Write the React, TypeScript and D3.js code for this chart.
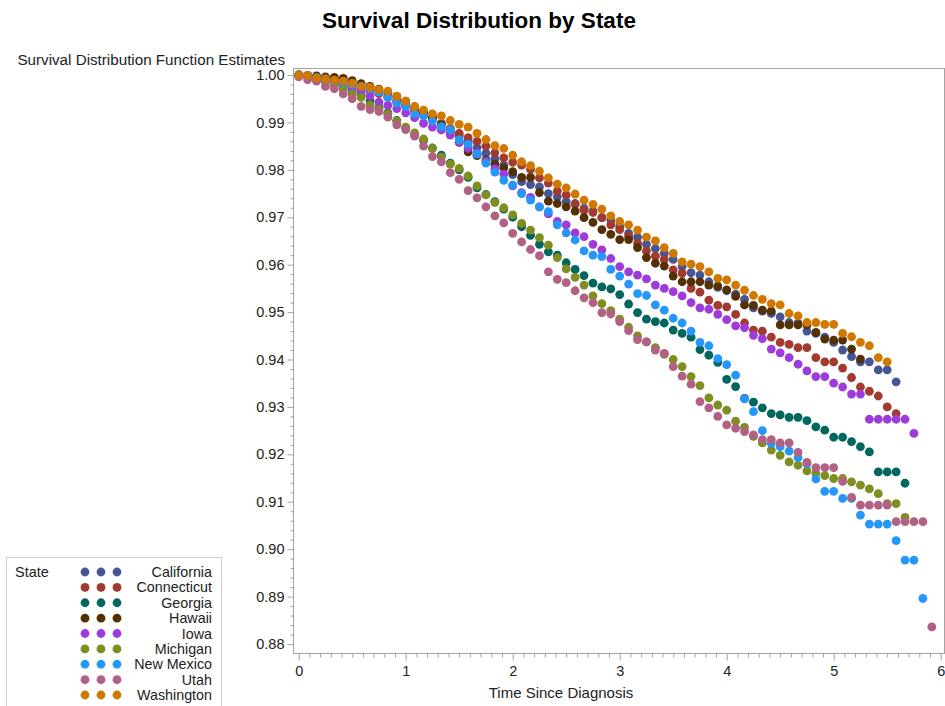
import React, { useEffect, useRef } from "react";
import * as d3 from "d3";

// Survival estimates per state, one value per month since diagnosis (month 0, 1, 2, ...)
const stateNames = ["California", "Connecticut", "Georgia", "Hawaii", "Iowa", "Michigan", "New Mexico", "Utah", "Washington"];

const california = [
  1.0, 0.9998, 0.9995, 0.9991, 0.9987, 0.9983, 0.9979, 0.9973, 0.9968, 0.9962, 0.9955, 0.9947, 0.9938, 0.9928, 0.9919, 0.9909,
  0.9898, 0.9886, 0.9872, 0.986, 0.9847, 0.9835, 0.9823, 0.981, 0.979, 0.9775, 0.9769, 0.9764, 0.975, 0.9743, 0.9733, 0.9729,
  0.9719, 0.9713, 0.9699, 0.9694, 0.9681, 0.9666, 0.9658, 0.9643, 0.9634, 0.9624, 0.9611, 0.9596, 0.9583, 0.9578, 0.9564, 0.9552,
  0.9545, 0.9538, 0.9527, 0.9509, 0.9502, 0.9497, 0.949, 0.9478, 0.9476, 0.946, 0.9455, 0.9447, 0.9436, 0.942, 0.9406, 0.9395,
  0.9395, 0.9378, 0.9378, 0.9353,
];
const connecticut = [
  1.0, 0.9998, 0.9996, 0.9993, 0.999, 0.9986, 0.9981, 0.9975, 0.9968, 0.9961, 0.9953, 0.9944, 0.9934, 0.9924, 0.9915, 0.9906,
  0.9896, 0.9887, 0.9877, 0.9868, 0.986, 0.985, 0.9836, 0.9825, 0.9816, 0.981, 0.9801, 0.9783, 0.9772, 0.9755, 0.9747, 0.9727,
  0.9715, 0.971, 0.9699, 0.9684, 0.9674, 0.966, 0.9645, 0.9629, 0.9618, 0.9611, 0.9589, 0.9582, 0.955, 0.9542, 0.9525, 0.9514,
  0.9511, 0.9495, 0.9477, 0.9462, 0.946, 0.9447, 0.9436, 0.9432, 0.9425, 0.9425, 0.9404, 0.9395, 0.9395, 0.9382, 0.9362, 0.9342,
  0.9333, 0.9323, 0.93, 0.9286,
];
const georgia = [
  1.0, 0.9997, 0.9993, 0.9987, 0.9981, 0.9975, 0.9967, 0.9958, 0.9945, 0.9932, 0.992, 0.9904, 0.9888, 0.9875, 0.9862, 0.9846,
  0.9831, 0.9814, 0.98, 0.9784, 0.9762, 0.9748, 0.9733, 0.9717, 0.97, 0.968, 0.9662, 0.9643, 0.9627, 0.962, 0.9604, 0.959,
  0.9577, 0.9561, 0.9553, 0.9549, 0.9537, 0.9517, 0.9499, 0.9485, 0.948, 0.9477, 0.9462, 0.9455, 0.9447, 0.9421, 0.9409, 0.9394,
  0.9358, 0.9343, 0.9318, 0.931, 0.9298, 0.9286, 0.9283, 0.9278, 0.9278, 0.9271, 0.9258, 0.9251, 0.9236, 0.9236, 0.9227, 0.9216,
  0.9205, 0.9163, 0.9163, 0.9163, 0.9139,
];
const hawaii = [
  1.0, 0.9999, 0.9998, 0.9996, 0.9995, 0.9993, 0.9988, 0.9982, 0.9976, 0.997, 0.9963, 0.9955, 0.9945, 0.9933, 0.9922, 0.991,
  0.9895, 0.988, 0.9858, 0.9838, 0.983, 0.9821, 0.9812, 0.9804, 0.9796, 0.9784, 0.9784, 0.9752, 0.9734, 0.9729, 0.9722, 0.9713,
  0.9699, 0.9689, 0.9674, 0.9664, 0.9653, 0.9653, 0.9636, 0.9615, 0.9603, 0.9597, 0.9576, 0.9564, 0.9564, 0.9564, 0.9557, 0.9555,
  0.9547, 0.9533, 0.9515, 0.9514, 0.9504, 0.9502, 0.9473, 0.9473, 0.9473, 0.9473, 0.9457, 0.9443, 0.9441, 0.9441, 0.9422, 0.9401,
];
const iowa = [
  1.0, 0.9997, 0.9993, 0.9989, 0.9984, 0.9979, 0.9972, 0.9965, 0.9956, 0.9943, 0.9936, 0.9929, 0.992, 0.991, 0.9898, 0.989,
  0.9884, 0.9873, 0.9859, 0.9845, 0.9835, 0.9818, 0.9802, 0.9791, 0.9766, 0.9752, 0.9742, 0.9722, 0.9707, 0.9691, 0.9684, 0.9667,
  0.9659, 0.9643, 0.9631, 0.9613, 0.9596, 0.9585, 0.9578, 0.957, 0.9557, 0.955, 0.9543, 0.9534, 0.952, 0.9509, 0.9506, 0.9495,
  0.9484, 0.9471, 0.9467, 0.9451, 0.9444, 0.9422, 0.9414, 0.9404, 0.939, 0.9376, 0.9364, 0.9364, 0.935, 0.9342, 0.9327, 0.9327,
  0.9274, 0.9274, 0.9274, 0.9274, 0.9274, 0.9244,
];
const michigan = [
  1.0, 0.9997, 0.9992, 0.9986, 0.9979, 0.997, 0.996, 0.9953, 0.9937, 0.9928, 0.9918, 0.9903, 0.989, 0.9878, 0.9865, 0.9845,
  0.9827, 0.9812, 0.9803, 0.9787, 0.9766, 0.9747, 0.9731, 0.972, 0.9705, 0.9687, 0.9673, 0.9657, 0.9641, 0.9615, 0.9591, 0.9573,
  0.9557, 0.9534, 0.9518, 0.9503, 0.9485, 0.9468, 0.945, 0.9437, 0.9425, 0.9411, 0.94, 0.9385, 0.9364, 0.9345, 0.9319, 0.9304,
  0.9293, 0.927, 0.9257, 0.9238, 0.9224, 0.9209, 0.9198, 0.9184, 0.9177, 0.9165, 0.916, 0.9155, 0.9149, 0.9149, 0.9142, 0.9135,
  0.9127, 0.9117, 0.9096, 0.9096, 0.9067,
];
const newMexico = [
  1.0, 0.9998, 0.9995, 0.9992, 0.9988, 0.9984, 0.998, 0.9976, 0.9971, 0.9964, 0.9953, 0.9941, 0.9934, 0.9918, 0.9914, 0.9903,
  0.9891, 0.9884, 0.9863, 0.9854, 0.9833, 0.9814, 0.9795, 0.9778, 0.9768, 0.975, 0.9736, 0.9722, 0.9712, 0.9684, 0.9667, 0.9652,
  0.9629, 0.962, 0.9617, 0.959, 0.9576, 0.9559, 0.9539, 0.9535, 0.9515, 0.9504, 0.9487, 0.9477, 0.946, 0.9436, 0.9429, 0.9402,
  0.9389, 0.9367, 0.9317, 0.929, 0.925, 0.9223, 0.9216, 0.9207, 0.9193, 0.918, 0.9148, 0.9122, 0.9122, 0.9107, 0.9107, 0.9072,
  0.9053, 0.9053, 0.9053, 0.9018, 0.8977, 0.8977, 0.8896,
];
const utah = [
  0.9996, 0.999, 0.9987, 0.9976, 0.9971, 0.996, 0.995, 0.9934, 0.9927, 0.9923, 0.9911, 0.9895, 0.9885, 0.9871, 0.985, 0.9828,
  0.9817, 0.9794, 0.978, 0.9756, 0.9741, 0.9722, 0.9703, 0.9688, 0.9666, 0.9648, 0.9632, 0.9619, 0.9585, 0.9569, 0.9562, 0.9545,
  0.953, 0.952, 0.9499, 0.9496, 0.948, 0.9461, 0.9442, 0.9437, 0.942, 0.9413, 0.9385, 0.9365, 0.9348, 0.9311, 0.9298, 0.928,
  0.9262, 0.9255, 0.9248, 0.9241, 0.9231, 0.9231, 0.9224, 0.9224, 0.9204, 0.9183, 0.9172, 0.9172, 0.9172, 0.9143, 0.9109, 0.9093,
  0.9093, 0.9093, 0.9093, 0.9058, 0.9058, 0.9058, 0.9058, 0.8836,
];
const washington = [
  1.0, 0.9999, 0.9994, 0.9992, 0.9989, 0.9987, 0.9983, 0.9976, 0.9974, 0.9969, 0.9966, 0.9955, 0.9945, 0.9933, 0.9926, 0.9918,
  0.9914, 0.9904, 0.9896, 0.989, 0.9877, 0.9864, 0.9851, 0.9845, 0.9831, 0.9817, 0.9809, 0.9797, 0.9783, 0.977, 0.9762, 0.9749,
  0.9736, 0.9727, 0.9717, 0.9703, 0.9691, 0.9684, 0.9673, 0.9658, 0.965, 0.9636, 0.9624, 0.9606, 0.9601, 0.9596, 0.9585, 0.9571,
  0.9568, 0.9557, 0.9546, 0.9535, 0.9527, 0.9518, 0.9515, 0.9497, 0.9492, 0.9478, 0.9478, 0.9474, 0.9474, 0.9455, 0.9448, 0.9436,
  0.9429, 0.9404, 0.9395,
];

const seriesValues = [california, connecticut, georgia, hawaii, iowa, michigan, newMexico, utah, washington];
const stateColors = ["#445694", "#A23A2E", "#01665E", "#543005", "#9D3CDB", "#7F8E1F", "#2597FA", "#B26084", "#D17800"];

const yTicks = [0.88, 0.89, 0.9, 0.91, 0.92, 0.93, 0.94, 0.95, 0.96, 0.97, 0.98, 0.99, 1.0];
const xTicks = [0, 1, 2, 3, 4, 5, 6];

const App = () => {
  const svgRef = useRef(null);

  useEffect(() => {
    const svg = d3.select(svgRef.current);
    svg.selectAll("*").remove();

    const width = 945;
    const height = 706;
    const frame = { left: 293, top: 68, right: 944, bottom: 653 };
    const font = "'Liberation Sans', Arial, sans-serif";
    const axisGray = "#a3a3a3";

    svg.attr("width", width).attr("height", height).style("font-family", font);

    const x = d3.scaleLinear().domain([0, 6]).range([298.7, 940.7]);
    const y = d3.scaleLinear().domain([0.88, 1.0]).range([644, 75]);

    // title
    svg.append("text")
      .attr("x", 479).attr("y", 28)
      .attr("text-anchor", "middle")
      .attr("font-size", 22.5).attr("font-weight", "bold")
      .attr("fill", "#000")
      .text("Survival Distribution by State");

    // y axis title (horizontal, top-left)
    svg.append("text")
      .attr("x", 285).attr("y", 65)
      .attr("text-anchor", "end")
      .attr("font-size", 15.2).attr("fill", "#222")
      .text("Survival Distribution Function Estimates");

    // frame
    svg.append("rect")
      .attr("x", frame.left + 0.5).attr("y", frame.top + 0.5)
      .attr("width", frame.right - frame.left).attr("height", frame.bottom - frame.top)
      .attr("fill", "none").attr("stroke", axisGray);

    // y axis
    const yMinor = d3.range(0.882, 1.001, 0.002).filter(v => Math.abs(v * 100 - Math.round(v * 100)) > 1e-6);
    const yMinorG = svg.append("g").attr("transform", `translate(${frame.left + 0.5},0)`)
      .call(d3.axisLeft(y).tickValues(yMinor).tickSize(3).tickFormat(() => ""));
    yMinorG.select(".domain").remove();
    yMinorG.selectAll("line").attr("stroke", axisGray);

    const yAxisG = svg.append("g").attr("transform", `translate(${frame.left + 0.5},0)`)
      .call(d3.axisLeft(y).tickValues(yTicks).tickSize(6).tickPadding(3).tickFormat(d3.format(".2f")));
    yAxisG.select(".domain").remove();
    yAxisG.selectAll("line").attr("stroke", axisGray);
    yAxisG.selectAll("text").attr("font-size", 14.5).attr("fill", "#222").style("font-family", font);

    // x axis
    const xMinor = d3.range(0.1, 6.01, 0.1).filter(v => Math.abs(v - Math.round(v)) > 1e-6);
    const xMinorG = svg.append("g").attr("transform", `translate(0,${frame.bottom + 0.5})`)
      .call(d3.axisBottom(x).tickValues(xMinor).tickSize(4).tickFormat(() => ""));
    xMinorG.select(".domain").remove();
    xMinorG.selectAll("line").attr("stroke", axisGray);

    const xAxisG = svg.append("g").attr("transform", `translate(0,${frame.bottom + 0.5})`)
      .call(d3.axisBottom(x).tickValues(xTicks).tickSize(7).tickPadding(5).tickFormat(d3.format("d")));
    xAxisG.select(".domain").remove();
    xAxisG.selectAll("line").attr("stroke", axisGray);
    xAxisG.selectAll("text").attr("font-size", 14.5).attr("fill", "#222").style("font-family", font);

    svg.append("text")
      .attr("x", 561).attr("y", 698)
      .attr("text-anchor", "middle")
      .attr("font-size", 15).attr("fill", "#222")
      .text("Time Since Diagnosis");

    // markers, one group per state, drawn in legend order
    seriesValues.forEach((vals, i) => {
      svg.append("g")
        .selectAll("circle")
        .data(vals)
        .enter().append("circle")
        .attr("cx", (d, m) => x(m / 12))
        .attr("cy", d => y(d))
        .attr("r", 4.4)
        .attr("fill", stateColors[i]);
    });

    // legend
    const legend = svg.append("g");
    legend.append("rect")
      .attr("x", 6.5).attr("y", 557.5).attr("width", 215).attr("height", 170)
      .attr("fill", "#fff").attr("stroke", "#cfcfcf");
    legend.append("text")
      .attr("x", 15).attr("y", 577)
      .attr("font-size", 14.5).attr("fill", "#222")
      .text("State");

    const rowY = d3.scaleLinear().domain([0, 8]).range([572, 695]);
    stateNames.forEach((name, i) => {
      const cy = rowY(i);
      [85, 101, 117].forEach(cx => {
        legend.append("circle").attr("cx", cx).attr("cy", cy).attr("r", 4.4).attr("fill", stateColors[i]);
      });
      legend.append("text")
        .attr("x", 212).attr("y", cy + 5)
        .attr("text-anchor", "end")
        .attr("font-size", 14.3).attr("fill", "#222")
        .text(name);
    });
  }, []);

  return (
    <div style={{ position: "absolute", left: 0, top: 0 }}>
      <svg ref={svgRef}></svg>
    </div>
  );
};

export default App;
